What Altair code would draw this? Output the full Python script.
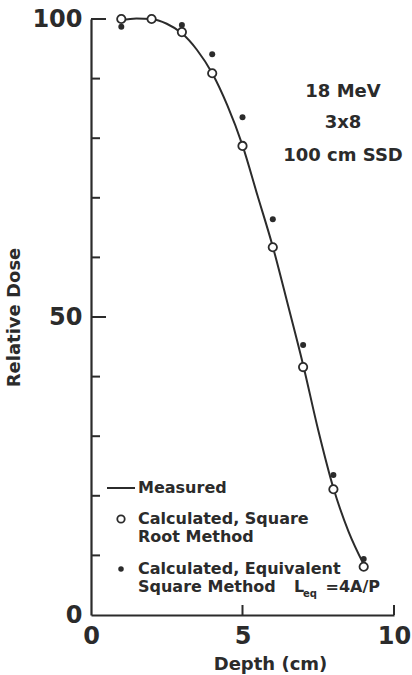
import altair as alt
import pandas as pd

# Measured depth-dose curve (depth in cm, relative dose in %)
measured_depth = [1, 1.5, 2, 2.5, 3, 3.5, 4, 4.5, 5, 5.5, 6, 6.5, 7, 7.5, 8, 8.5, 9]
measured_dose = [99.8, 100.1, 100.0, 99.2, 97.6, 94.8, 90.9, 85.5, 78.8, 70.3, 61.8, 52.0, 42.0, 31.0, 21.3, 14.0, 8.5]

# Calculated, square root method (open circles)
sqrt_depth = [1, 2, 3, 4, 5, 6, 7, 8, 9]
sqrt_dose = [100.0, 100.0, 97.8, 90.9, 78.7, 61.7, 41.6, 21.1, 8.1]

# Calculated, equivalent square method (filled dots)
eq_depth = [1, 3, 4, 5, 6, 7, 8, 9]
eq_dose = [98.7, 99.0, 94.1, 83.5, 66.4, 45.3, 23.5, 9.4]

# Axis tick positions
y_minor_ticks = [10, 20, 30, 40, 60, 70, 80, 90]
y_major_ticks = [50, 100]
x_ticks = [5, 10]

# Beam description lines
beam_lines = ["18 MeV", "3x8", "100 cm SSD"]

INK = "#2b2b2b"
FONT = "DejaVu Sans"
W, H = 303, 596

measured = pd.DataFrame({"depth": measured_depth, "dose": measured_dose})
sqrt_df = pd.DataFrame({"depth": sqrt_depth, "dose": sqrt_dose})
eq_df = pd.DataFrame({"depth": eq_depth, "dose": eq_dose})

x_scale = alt.Scale(domain=[0, 10], nice=False)
y_scale = alt.Scale(domain=[0, 100], nice=False)

x_enc = alt.X(
    "depth:Q", scale=x_scale,
    axis=alt.Axis(values=[0, 5, 10], ticks=False, grid=False, title="Depth (cm)",
                  labelFontSize=24, labelFontWeight="bold", labelPadding=9, labelFlush=False,
                  titleFontSize=18, titleFontWeight="bold", titlePadding=7,
                  titleX=179, titleAlign="center", titleAnchor="start",
                  domainWidth=2.2),
)
y_enc = alt.Y(
    "dose:Q", scale=y_scale,
    axis=alt.Axis(values=[0, 50, 100], ticks=False, grid=False, title="Relative Dose",
                  labelFontSize=24, labelFontWeight="bold", labelPadding=9, labelFlush=False,
                  titleFontSize=18, titleFontWeight="bold", titlePadding=8,
                  domainWidth=2.2),
)

curve = alt.Chart(measured).mark_line(
    color=INK, strokeWidth=2, interpolate="monotone"
).encode(x=x_enc, y=y_enc)

dots = alt.Chart(eq_df).mark_point(
    filled=True, color=INK, size=36, opacity=1
).encode(x=alt.X("depth:Q", scale=x_scale), y=alt.Y("dose:Q", scale=y_scale))

circles = alt.Chart(sqrt_df).mark_point(
    shape="circle", filled=True, fill="white", stroke=INK, strokeWidth=1.8, size=70, opacity=1
).encode(x=alt.X("depth:Q", scale=x_scale), y=alt.Y("dose:Q", scale=y_scale))

# Inward-pointing tick marks along both axes
y_minor = alt.Chart(pd.DataFrame({"dose": y_minor_ticks})).mark_rule(color=INK, strokeWidth=2).encode(
    y=alt.Y("dose:Q", scale=y_scale), x=alt.value(0), x2=alt.value(9)
)
y_major = alt.Chart(pd.DataFrame({"dose": y_major_ticks})).mark_rule(color=INK, strokeWidth=2).encode(
    y=alt.Y("dose:Q", scale=y_scale), x=alt.value(0), x2=alt.value(15)
)
x_tick = alt.Chart(pd.DataFrame({"depth": x_ticks})).mark_rule(color=INK, strokeWidth=2).encode(
    x=alt.X("depth:Q", scale=x_scale), y=alt.value(H), y2=alt.value(H - 10)
)


def label(text, x, y, size=16, align="left"):
    return alt.Chart(pd.DataFrame({"t": [text]})).mark_text(
        font=FONT, fontSize=size, fontWeight="bold", color=INK, align=align, baseline="middle"
    ).encode(x=alt.value(x), y=alt.value(y), text="t:N")


beam = [label(t, 252, y, size=18, align="center") for t, y in zip(beam_lines, [73, 104, 137])]

# Key in the lower left corner
key_line = alt.Chart(pd.DataFrame({"a": [0]})).mark_rule(color=INK, strokeWidth=2).encode(
    x=alt.value(16), x2=alt.value(44), y=alt.value(469)
)
key_circle = alt.Chart(pd.DataFrame({"a": [0]})).mark_point(
    shape="circle", filled=True, fill="white", stroke=INK, strokeWidth=1.8, size=55, opacity=1
).encode(x=alt.value(30), y=alt.value(500))
key_dot = alt.Chart(pd.DataFrame({"a": [0]})).mark_point(
    filled=True, color=INK, size=30, opacity=1
).encode(x=alt.value(30), y=alt.value(550))

key = [
    key_line, key_circle, key_dot,
    label("Measured", 47, 469),
    label("Calculated,  Square", 47, 500),
    label("Root  Method", 47, 518),
    label("Calculated,  Equivalent", 47, 550),
    label("Square Method", 47, 568),
    label("L", 203, 568),
    label("eq", 212, 575, size=10),
    label("=4A/P", 289, 568, align="right"),
]

chart = alt.layer(
    curve, y_minor, y_major, x_tick, dots, circles, *beam, *key
).properties(
    width=W, height=H,
    autosize=alt.AutoSizeParams(type="none"),
    padding={"left": 91, "top": 19, "right": 18, "bottom": 60},
).configure_view(stroke=None).configure_axis(
    domainColor=INK, labelColor=INK, titleColor=INK, labelFont=FONT, titleFont=FONT
)

chart.save("out.html", embed_options={"renderer": "svg", "actions": False})
